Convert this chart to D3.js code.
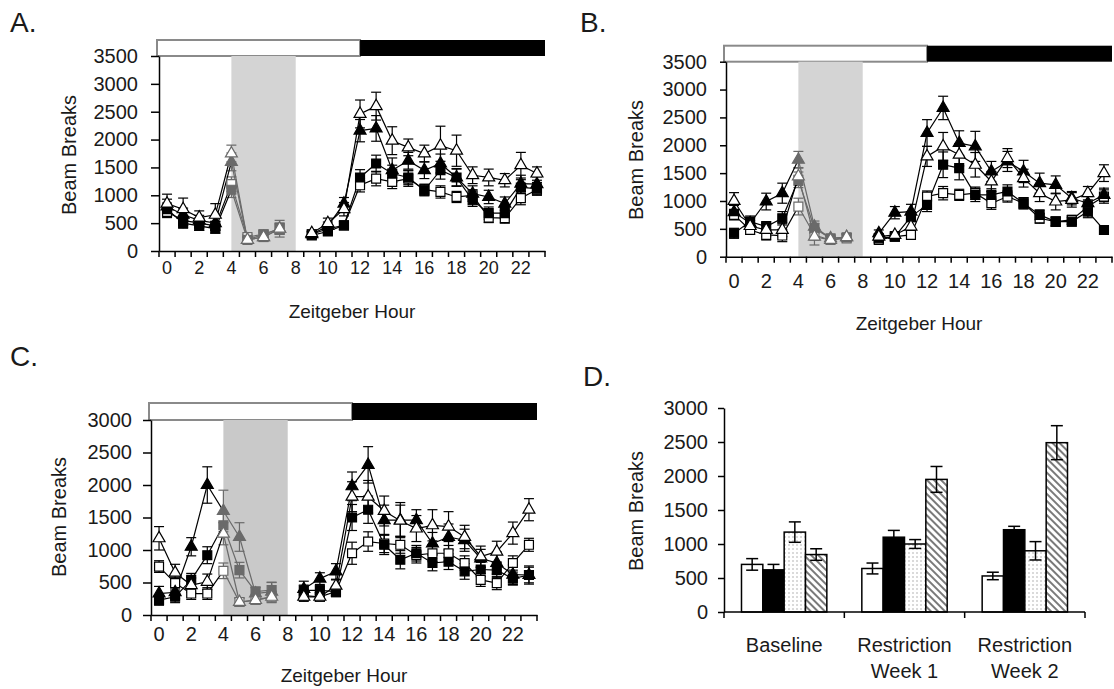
<!DOCTYPE html>
<html>
<head>
<meta charset="utf-8">
<script src="https://cdnjs.cloudflare.com/ajax/libs/d3/7.8.5/d3.min.js"></script>
<style>
body { margin: 0; background: #fff; }
svg text { font-family: "Liberation Sans", Arial, sans-serif; fill: #1a1a1a; }
</style>
</head>
<body>
<svg id="figure" width="1114" height="689"></svg>
<script>
// ---- data ----
const hours = [0,1,2,3,4,5,6,7,8,9,10,11,12,13,14,15,16,17,18,19,20,21,22,23];
const hour_labels = [0,2,4,6,8,10,12,14,16,18,20,22];
const y_ticks_35 = [0,500,1000,1500,2000,2500,3000,3500];
const y_ticks_30 = [0,500,1000,1500,2000,2500,3000];
const dark_start = 12;
const restrict_hours = [4, 8];
const restrict_marks = [4, 5, 6, 7];

// panel A
const a_open_tri   = [850,750,600,650,1750,200,250,400,null,320,500,750,2460,2600,1980,1860,1750,1890,1800,1360,1320,1270,1540,1390];
const a_open_tri_e = [170,200,120,200,150,60,80,150,null,60,90,120,250,250,250,150,150,350,280,150,150,120,230,120];
const a_fill_tri   = [800,650,550,500,1600,200,250,400,null,300,450,850,2160,2200,1450,1620,1450,1570,1320,1030,970,850,1210,1200];
const a_fill_tri_e = [130,120,90,120,160,50,70,100,null,50,70,110,200,230,220,150,150,170,160,140,120,120,150,130];
const a_fill_sq    = [750,500,450,400,1100,200,300,400,null,280,350,460,1320,1570,1390,1320,1090,1450,1320,910,680,680,1140,1120];
const a_fill_sq_e  = [110,90,80,80,140,40,60,90,null,50,60,70,140,150,150,130,100,160,150,110,110,100,140,110];
const a_open_sq    = [700,550,500,450,1200,250,300,400,null,300,400,460,1180,1300,1240,1300,1100,1060,970,1000,600,590,950,1100];
const a_open_sq_e  = [100,90,90,80,130,50,60,100,null,50,60,70,120,130,120,140,100,110,100,100,90,90,120,100];

// panel B
const b_open_tri   = [1000,550,480,480,1440,360,300,350,null,360,390,540,1800,1980,1830,1650,1350,1770,1410,1140,990,1020,1140,1500];
const b_open_tri_e = [150,100,120,120,160,150,60,60,null,50,60,90,180,250,200,220,180,170,160,150,150,130,120,150];
const b_fill_tri   = [800,600,990,1140,1740,540,330,350,null,420,790,810,2220,2670,2040,1980,1530,1710,1530,1320,1290,1050,960,1110];
const b_fill_tri_e = [120,100,150,180,150,100,60,60,null,60,110,130,240,210,220,270,180,180,200,180,160,120,120,120];
const b_fill_sq    = [420,630,540,690,1380,510,330,350,null,330,360,720,930,1650,1590,1110,1110,1170,960,750,630,630,810,480];
const b_fill_sq_e  = [90,100,90,120,140,90,60,60,null,50,60,90,120,230,210,120,110,120,100,90,80,80,110,70];
const b_open_sq    = [750,480,390,380,900,390,300,330,null,300,360,390,1080,1140,1110,1140,960,1080,960,690,630,660,900,1080];
const b_open_sq_e  = [90,80,90,110,150,90,60,60,null,50,60,70,100,120,100,110,110,100,100,90,80,80,100,120];

// panel C
const c_open_tri   = [1180,650,460,510,1250,200,230,280,null,280,280,450,1820,1820,1600,1450,1330,1380,1360,1200,900,975,1260,1620];
const c_open_tri_e = [180,130,110,120,170,60,60,90,null,70,70,90,230,250,230,240,200,240,230,180,160,160,170,170];
const c_fill_tri   = [330,350,1050,2000,1600,1200,330,360,null,400,560,670,1980,2310,1460,1460,1460,1100,1200,1150,870,800,620,615];
const c_fill_tri_e = [110,100,140,280,320,220,90,140,null,120,90,120,220,280,230,270,160,170,200,170,140,170,150,140];
const c_fill_sq    = [230,280,540,920,1380,690,360,385,null,380,380,360,1500,1620,1080,850,950,800,820,670,700,690,560,615];
const c_fill_sq_e  = [80,90,100,130,180,120,70,120,null,80,70,80,200,210,150,140,120,120,120,120,110,110,100,120];
const c_open_sq    = [745,490,330,330,680,200,230,280,null,300,280,360,950,1130,1100,1080,920,950,950,800,540,490,800,1080];
const c_open_sq_e  = [90,90,90,90,120,60,60,80,null,70,60,70,170,150,140,130,120,130,120,110,100,100,110,100];

// panel D
const d_groups = ["Baseline", "Restriction Week 1", "Restriction Week 2"];
const d_bar_keys = ["white", "black", "dotted", "hatched"];
const d_white    = [700, 640, 530];
const d_white_e  = [85, 80, 55];
const d_black    = [620, 1100, 1210];
const d_black_e  = [80, 100, 50];
const d_dotted   = [1175, 1000, 900];
const d_dotted_e = [150, 65, 135];
const d_hatched  = [845, 1950, 2490];
const d_hatched_e= [85, 190, 250];

// ---- drawing ----
const svg = d3.select("#figure");
const grey = "#6a6a6a";
const plain = d3.format("d");

let defs = svg.append("defs");
let dots = defs.append("pattern").attr("id", "dots")
    .attr("width", 4).attr("height", 4).attr("patternUnits", "userSpaceOnUse");
dots.append("rect").attr("width", 4).attr("height", 4).attr("fill", "#fff");
dots.append("circle").attr("cx", 1).attr("cy", 1).attr("r", 0.7).attr("fill", "#9a9a9a");
let hatch = defs.append("pattern").attr("id", "hatch")
    .attr("width", 5).attr("height", 5).attr("patternUnits", "userSpaceOnUse")
    .attr("patternTransform", "rotate(-45)");
hatch.append("rect").attr("width", 5).attr("height", 5).attr("fill", "#fff");
hatch.append("line").attr("x1", 1).attr("y1", 0).attr("x2", 1).attr("y2", 5)
    .attr("stroke", "#7a7a7a").attr("stroke-width", 2);

function panel_letter(txt, x, y) {
    svg.append("text").attr("x", x).attr("y", y)
        .style("font-size", "28px").text(txt);
}

function y_title(x, y) {
    svg.append("text")
        .attr("transform", "translate(" + x + "," + y + ") rotate(-90)")
        .attr("text-anchor", "middle")
        .style("font-size", "20px")
        .text("Beam Breaks");
}

function draw_line_panel(p) {
    let g = svg.append("g");
    let x = d3.scaleBand().domain(hours).range([p.left, p.right]);
    let y = d3.scaleLinear().domain([0, p.ymax]).range([p.bottom, p.top]);
    let cx = function (h) { return x(h) + x.bandwidth() / 2; };

    // light / dark bar
    g.append("rect")
        .attr("x", p.left - 2).attr("y", p.top - p.bar_h)
        .attr("width", cx(dark_start) - p.left + 2).attr("height", p.bar_h)
        .attr("fill", "#fff").attr("stroke", "#8a8a8a").attr("stroke-width", 2);
    g.append("rect")
        .attr("x", cx(dark_start)).attr("y", p.top - p.bar_h)
        .attr("width", p.right - cx(dark_start)).attr("height", p.bar_h)
        .attr("fill", "#000");

    // restriction shading
    g.append("rect")
        .attr("x", cx(restrict_hours[0])).attr("y", p.top)
        .attr("width", cx(restrict_hours[1]) - cx(restrict_hours[0]))
        .attr("height", p.bottom - p.top)
        .attr("fill", p.shade);

    // y axis
    let ya = g.append("g")
        .attr("transform", "translate(" + p.left + ",0)")
        .call(d3.axisLeft(y).tickValues(p.yticks).tickFormat(plain)
            .tickSize(p.ytick).tickSizeOuter(0).tickPadding(p.ypad));
    ya.selectAll("text").style("font-size", "20px");
    ya.selectAll("line, path").attr("stroke", "#000").attr("stroke-width", 1.5);

    // x axis: labels at hour centres, ticks at hour edges
    let xa = g.append("g")
        .attr("transform", "translate(0," + p.bottom + ")")
        .call(d3.axisBottom(x).tickValues(hour_labels).tickSize(0).tickSizeOuter(0).tickPadding(p.xpad));
    xa.selectAll("text").style("font-size", p.xfont + "px");
    xa.select("path").attr("stroke", "#000").attr("stroke-width", 1.5);
    xa.selectAll(".edge").data(hours.concat([null])).enter().append("line")
        .attr("class", "edge")
        .attr("x1", function (d) { return d === null ? p.right : x(d); })
        .attr("x2", function (d) { return d === null ? p.right : x(d); })
        .attr("y1", 0).attr("y2", 6)
        .attr("stroke", "#000").attr("stroke-width", 1.5);

    g.append("text")
        .attr("x", (p.left + p.right) / 2).attr("y", p.xtitle_y)
        .attr("text-anchor", "middle").style("font-size", "19px")
        .text("Zeitgeber Hour");

    let in_restrict = function (h) { return restrict_marks.indexOf(h) >= 0; };

    // error bars
    p.series.forEach(function (s) {
        let pts = hours.filter(function (h) { return s.values[h] !== null; });
        let eb = g.append("g").selectAll("g").data(pts).enter().append("g")
            .attr("stroke", function (h) { return in_restrict(h) ? grey : "#000"; })
            .attr("stroke-width", 1.2);
        eb.append("line")
            .attr("x1", cx).attr("x2", cx)
            .attr("y1", function (h) { return y(s.values[h] - s.errors[h]); })
            .attr("y2", function (h) { return y(s.values[h] + s.errors[h]); });
        [-1, 1].forEach(function (sign) {
            eb.append("line")
                .attr("x1", function (h) { return cx(h) - 5; })
                .attr("x2", function (h) { return cx(h) + 5; })
                .attr("y1", function (h) { return y(s.values[h] + sign * s.errors[h]); })
                .attr("y2", function (h) { return y(s.values[h] + sign * s.errors[h]); });
        });
    });

    // lines
    let segs = [[0, 4, "#000"], [4, 7, grey], [9, 23, "#000"]];
    p.series.forEach(function (s) {
        segs.forEach(function (sg) {
            let pts = hours.filter(function (h) { return h >= sg[0] && h <= sg[1] && s.values[h] !== null; });
            g.append("path")
                .datum(pts)
                .attr("fill", "none")
                .attr("stroke", sg[2])
                .attr("stroke-width", 1.2)
                .attr("d", d3.line().x(cx).y(function (h) { return y(s.values[h]); }));
        });
    });

    // markers
    p.series.forEach(function (s) {
        let pts = hours.filter(function (h) { return s.values[h] !== null; });
        let sym = s.shape === "square"
            ? d3.symbol(d3.symbolSquare, 80)
            : d3.symbol(d3.symbolTriangle, 62);
        g.append("g").selectAll("path").data(pts).enter().append("path")
            .attr("transform", function (h) {
                return "translate(" + cx(h) + "," + y(s.values[h]) + ")";
            })
            .attr("d", sym)
            .attr("fill", function (h) {
                if (!s.filled) return "#fff";
                return in_restrict(h) ? grey : "#000";
            })
            .attr("stroke", function (h) { return in_restrict(h) ? grey : "#000"; })
            .attr("stroke-width", 1.2);
    });
}

function make_series(os, ose, fs, fse, ft, fte, ot, ote) {
    return [
        {values: os, errors: ose, shape: "square", filled: false},
        {values: fs, errors: fse, shape: "square", filled: true},
        {values: ft, errors: fte, shape: "triangle", filled: true},
        {values: ot, errors: ote, shape: "triangle", filled: false}
    ];
}

draw_line_panel({
    left: 159, right: 545, top: 56, bottom: 251, bar_h: 16, ymax: 3500,
    yticks: y_ticks_35, ytick: 8, ypad: 13, xpad: 10, xfont: 18, xtitle_y: 318,
    shade: "#d4d4d4",
    series: make_series(a_open_sq, a_open_sq_e, a_fill_sq, a_fill_sq_e,
        a_fill_tri, a_fill_tri_e, a_open_tri, a_open_tri_e)
});

draw_line_panel({
    left: 726, right: 1112, top: 61.7, bottom: 256.7, bar_h: 16, ymax: 3500,
    yticks: y_ticks_35, ytick: 6, ypad: 13, xpad: 17, xfont: 20, xtitle_y: 330,
    shade: "#d4d4d4",
    series: make_series(b_open_sq, b_open_sq_e, b_fill_sq, b_fill_sq_e,
        b_fill_tri, b_fill_tri_e, b_open_tri, b_open_tri_e)
});

draw_line_panel({
    left: 151, right: 537, top: 420, bottom: 615, bar_h: 17, ymax: 3000,
    yticks: y_ticks_30, ytick: 8, ypad: 11, xpad: 12, xfont: 20, xtitle_y: 682,
    shade: "#c9c9c9",
    series: make_series(c_open_sq, c_open_sq_e, c_fill_sq, c_fill_sq_e,
        c_fill_tri, c_fill_tri_e, c_open_tri, c_open_tri_e)
});

// ---- panel D: bars ----
function draw_bar_panel() {
    let left = 724, right = 1085, top = 408, bottom = 612;
    let g = svg.append("g");
    let x0 = d3.scaleBand().domain(d_groups).range([left, right]);
    let x1 = d3.scaleBand().domain(d_bar_keys).range([0, x0.bandwidth()]).paddingOuter(0.82);
    let y = d3.scaleLinear().domain([0, 3000]).range([bottom, top]);

    let rows = [];
    let vals = {white: d_white, black: d_black, dotted: d_dotted, hatched: d_hatched};
    let errs = {white: d_white_e, black: d_black_e, dotted: d_dotted_e, hatched: d_hatched_e};
    let fills = {white: "#fff", black: "#000", dotted: "url(#dots)", hatched: "url(#hatch)"};
    d_groups.forEach(function (grp, i) {
        d_bar_keys.forEach(function (k) {
            rows.push({group: grp, key: k, v: vals[k][i], e: errs[k][i]});
        });
    });

    g.selectAll("rect.bar").data(rows).enter().append("rect")
        .attr("class", "bar")
        .attr("x", function (d) { return x0(d.group) + x1(d.key); })
        .attr("y", function (d) { return y(d.v); })
        .attr("width", x1.bandwidth())
        .attr("height", function (d) { return bottom - y(d.v); })
        .attr("fill", function (d) { return fills[d.key]; })
        .attr("stroke", "#000").attr("stroke-width", 1.5);

    let eb = g.selectAll("g.err").data(rows).enter().append("g")
        .attr("class", "err").attr("stroke", "#000").attr("stroke-width", 1.5);
    let bx = function (d) { return x0(d.group) + x1(d.key) + x1.bandwidth() / 2; };
    eb.append("line").attr("x1", bx).attr("x2", bx)
        .attr("y1", function (d) { return y(d.v - d.e); })
        .attr("y2", function (d) { return y(d.v + d.e); });
    [-1, 1].forEach(function (sign) {
        eb.append("line")
            .attr("x1", function (d) { return bx(d) - 6; })
            .attr("x2", function (d) { return bx(d) + 6; })
            .attr("y1", function (d) { return y(d.v + sign * d.e); })
            .attr("y2", function (d) { return y(d.v + sign * d.e); });
    });

    let ya = g.append("g").attr("transform", "translate(" + left + ",0)")
        .call(d3.axisLeft(y).tickValues(y_ticks_30).tickFormat(plain)
            .tickSize(6).tickSizeOuter(0).tickPadding(10));
    ya.selectAll("text").style("font-size", "20px");
    ya.selectAll("line, path").attr("stroke", "#000").attr("stroke-width", 1.5);

    let xa = g.append("g").attr("transform", "translate(0," + bottom + ")");
    xa.append("line").attr("x1", left).attr("x2", right)
        .attr("stroke", "#000").attr("stroke-width", 1.5);
    xa.selectAll(".edge").data(d_groups.concat([null])).enter().append("line")
        .attr("class", "edge")
        .attr("x1", function (d) { return d === null ? right : x0(d); })
        .attr("x2", function (d) { return d === null ? right : x0(d); })
        .attr("y1", 0).attr("y2", 6)
        .attr("stroke", "#000").attr("stroke-width", 1.5);

    let labels = xa.selectAll(".lab").data(d_groups).enter().append("text")
        .attr("class", "lab")
        .attr("text-anchor", "middle")
        .style("font-size", "20px");
    labels.each(function (d) {
        let parts = d === "Baseline" ? ["Baseline"] : ["Restriction", d.replace("Restriction ", "")];
        let t = d3.select(this);
        parts.forEach(function (line, i) {
            t.append("tspan")
                .attr("x", x0(d) + x0.bandwidth() / 2)
                .attr("y", 40 + i * 26)
                .text(line);
        });
    });
}

panel_letter("A.", 10, 32);
panel_letter("B.", 580, 32);
panel_letter("C.", 10, 366);
panel_letter("D.", 583, 386);

y_title(76, 155);
y_title(643, 160);
y_title(66, 517);
y_title(643, 511);

draw_bar_panel();
</script>
</body>
</html>
